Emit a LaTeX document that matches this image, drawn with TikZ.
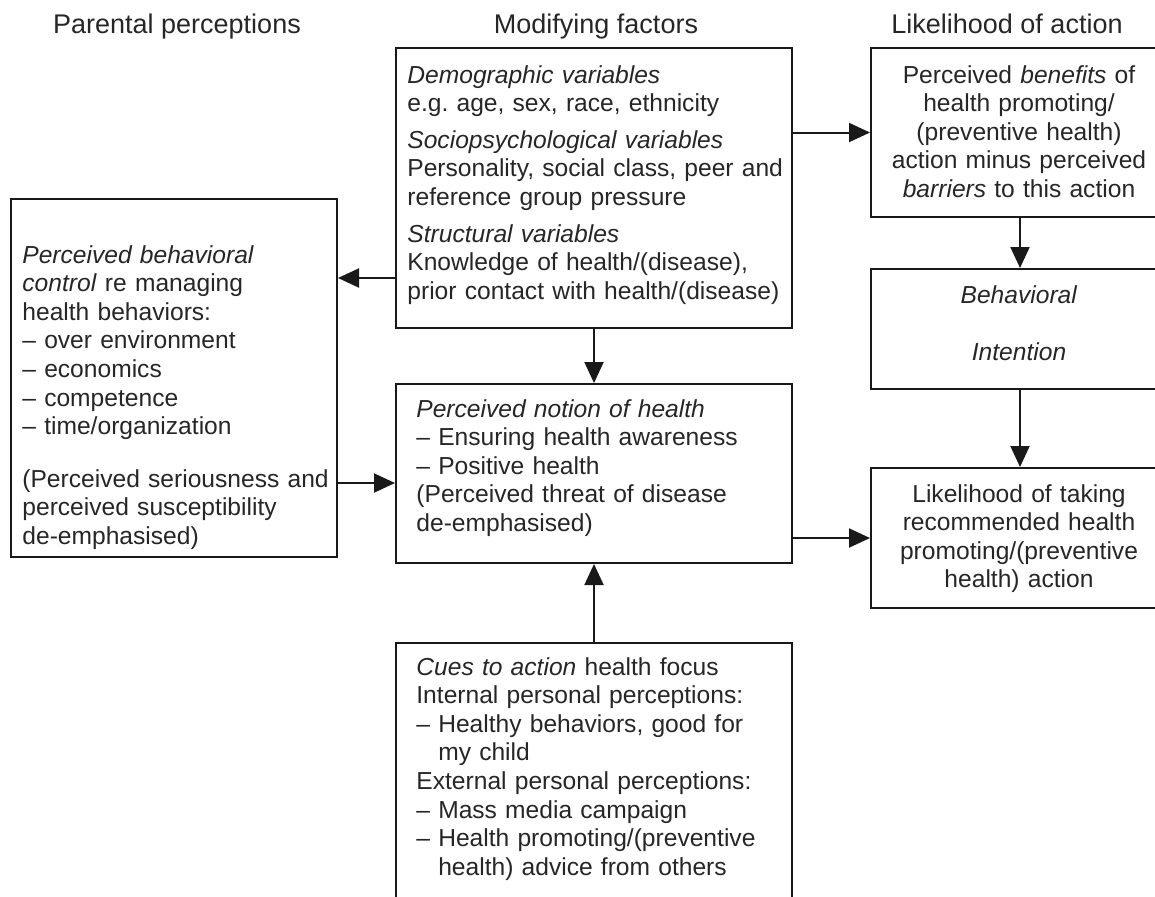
\documentclass[tikz,border=0pt]{standalone}
\usepackage{fontspec}
\setmainfont{Liberation Sans}
\usetikzlibrary{arrows.meta}

\newcommand{\ind}{\phantom{-- }}
\frenchspacing

\begin{document}
\begin{tikzpicture}[x=0.5pt,y=-0.5pt,
		every node/.style={text=black!85},
		box/.style={draw=black!90,line width=1pt,inner sep=0pt,anchor=north west},
		txt/.style={inner sep=0pt,anchor=base west,text width=200pt,align=left,font=\fontsize{12.3}{14.3}\selectfont},
		ctr/.style={inner sep=0pt,anchor=base,text width=145pt,align=center,font=\fontsize{12.3}{14.3}\selectfont},
		head/.style={inner sep=0pt,anchor=base,font=\fontsize{13.5}{16}\selectfont},
		arr/.style={draw=black!90,line width=1pt,-{Triangle[length=10.5pt,width=9.5pt]}}]
	\useasboundingbox (0,0) rectangle (1155,896);

	% column titles
	\node[head] (hpar) at (177,33) {Parental perceptions};
	\node[head] (hmod) at (596,33) {Modifying factors};
	\node[head] (hlik) at (1007,33) {Likelihood of action};

	% boxes
	\node[box,minimum width=198pt,minimum height=140pt] (mod) at (395,47) {};
	\node[box,minimum width=163pt,minimum height=179pt] (ctrl) at (10,198) {};
	\node[box,minimum width=198pt,minimum height=89.5pt] (notion) at (395,383) {};
	\node[box,minimum width=198pt,minimum height=130pt] (cues) at (395,642) {};
	\node[box,minimum width=149pt,minimum height=84.5pt] (benefit) at (870,47) {};
	\node[box,minimum width=149pt,minimum height=60pt] (intent) at (870,268) {};
	\node[box,minimum width=149pt,minimum height=70pt] (likely) at (870,467) {};

	% texts
	\node[txt] (modtxt) at (407,83) {\textit{Demographic variables}\\
		e.g. age, sex, race, ethnicity\\[4pt]
		\textit{Sociopsychological variables}\\
		Personality, social class, peer and\\
		reference group pressure\\[4pt]
		\textit{Structural variables}\\
		Knowledge of health/(disease),\\
		prior contact with health/(disease)};
	\node[txt] (ctrltxt) at (22,263) {\textit{Perceived behavioral}\\
		\textit{control} re managing\\
		health behaviors:\\
		-- over environment\\
		-- economics\\
		-- competence\\
		-- time/organization\\[11.9pt]
		(Perceived seriousness and\\
		perceived susceptibility\\
		de-emphasised)};
	\node[txt] (notiontxt) at (416,417) {\textit{Perceived notion of health}\\
		-- Ensuring health awareness\\
		-- Positive health\\
		(Perceived threat of disease\\
		de-emphasised)};
	\node[txt] (cuestxt) at (416,675) {\textit{Cues to action} health focus\\
		Internal personal perceptions:\\
		-- Healthy behaviors, good for\\
		\ind my child\\
		External personal perceptions:\\
		-- Mass media campaign\\
		-- Health promoting/(preventive\\
		\ind health) advice from others};
	\node[ctr] (benefittxt) at (1019,83) {Perceived \textit{benefits} of\\
		health promoting/\\
		(preventive health)\\
		action minus perceived\\
		\textit{barriers} to this action};
	\node[ctr] (intenttxt) at (1019,303) {\textit{Behavioral}\\[14.3pt]
		\textit{Intention}};
	\node[ctr] (likelytxt) at (1019,502) {Likelihood of taking\\
		recommended health\\
		promoting/(preventive\\
		health) action};

	% arrows
	\draw[arr] (benefit.west -| mod.east) -- (benefit.west);
	\draw[arr] (mod.west |- 0,278) -- (ctrl.east |- 0,278);
	\draw[arr] (mod.south) -- (notion.north);
	\draw[arr] (ctrl.east |- 0,483) -- (notion.west |- 0,483);
	\draw[arr] (cues.north) -- (notion.south);
	\draw[arr] (notion.east |- likely.west) -- (likely.west);
	\draw[arr] (benefit.south) -- (intent.north);
	\draw[arr] (intent.south) -- (likely.north);
\end{tikzpicture}
\end{document}
